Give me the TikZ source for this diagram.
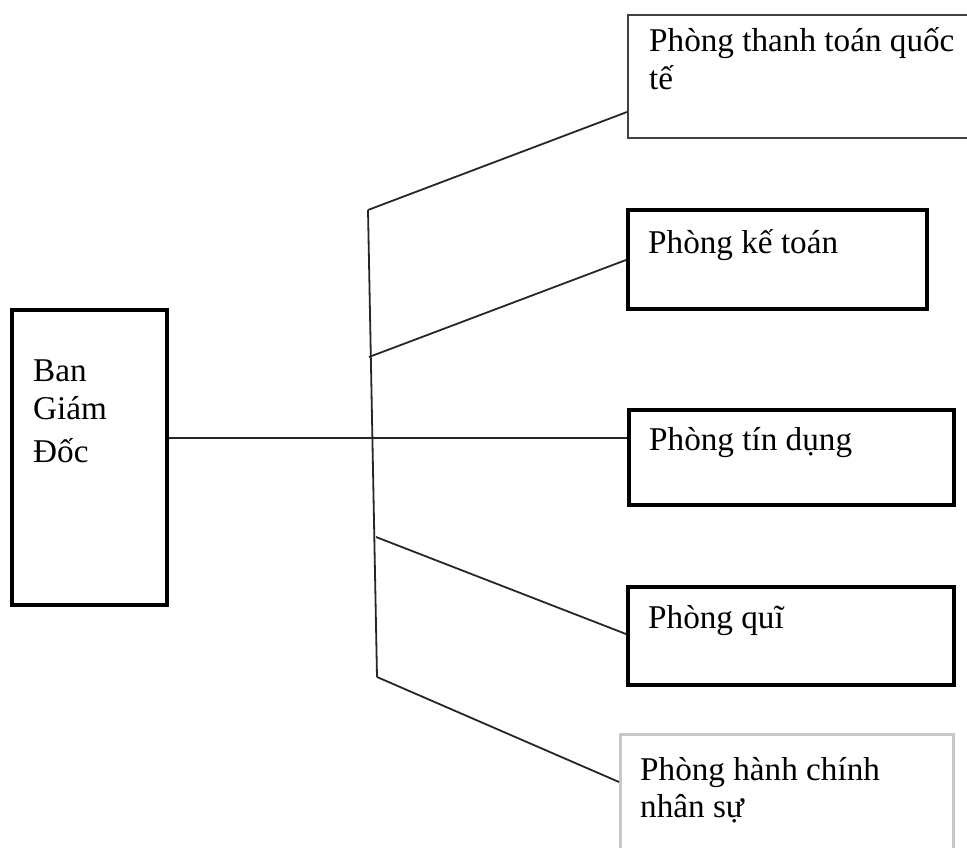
\documentclass[tikz,border=0pt]{standalone}
\usepackage{fontspec}
\setmainfont{Liberation Serif}
\begin{document}
\begin{tikzpicture}[x=1pt,y=-1pt,
  box/.style={draw=black,line width=3.5pt,rectangle,inner sep=0pt,anchor=north west},
  thinbox/.style={box,draw=black!75,line width=2.2pt},
  greybox/.style={box,draw=black!22,line width=2.8pt},
  txt/.style={anchor=base west,inner sep=0pt,font=\fontsize{33.2}{38}\selectfont},
  link/.style={line width=1.8pt,draw=black!85}]
\useasboundingbox (0,0) rectangle (967,848);
\clip (0,0) rectangle (967,848);
% boxes
\node[box,minimum width=155pt,minimum height=295pt] (bgd) at (10,308) {};
\node[thinbox,minimum width=400pt,minimum height=123pt] (qt) at (627,14) {};
\node[box,minimum width=299pt,minimum height=99pt] (kt) at (626,208) {};
\node[box,minimum width=325pt,minimum height=95pt] (td) at (627,408) {};
\node[box,minimum width=326pt,minimum height=98pt] (quy) at (626,585) {};
\node[greybox,minimum width=333pt,minimum height=160pt] (hc) at (619,733) {};
% texts
\node[txt] (b1) at (33,381) {Ban};
\node[txt] (b2) at (33,419) {Giám};
\node[txt] (b3) at (33,462) {Đốc};
\node[txt] (tqt1) at (649,52) {Phòng thanh toán quốc};
\node[txt] (tqt2) at (649,90) {tế};
\node[txt] (tkt) at (648,253) {Phòng kế toán};
\node[txt] (ttd) at (649,450) {Phòng tín dụng};
\node[txt] (tquy) at (648,628) {Phòng quĩ};
\node[txt] (thc1) at (640,780) {Phòng hành chính};
\node[txt] (thc2) at (640,817) {nhân sự};
% trunk junctions
\coordinate (jt) at (368,210);
\coordinate (j1) at (369,357);
\coordinate (j2) at (372,438);
\coordinate (j3) at (376,537);
\coordinate (jb) at (377,677);
% connector ends on box edges
\coordinate (eqt) at (627,112);
\coordinate (ekt) at (626,260);
\coordinate (equy) at (626,634);
\coordinate (ehc) at (619,782);
% connectors
\draw[link] (jt) -- (jb);
\draw[link] (bgd.east |- j2) -- (td.west |- j2);
\draw[link] (jt) -- (eqt);
\draw[link] (j1) -- (ekt);
\draw[link] (j3) -- (equy);
\draw[link] (jb) -- (ehc);
\end{tikzpicture}
\end{document}
